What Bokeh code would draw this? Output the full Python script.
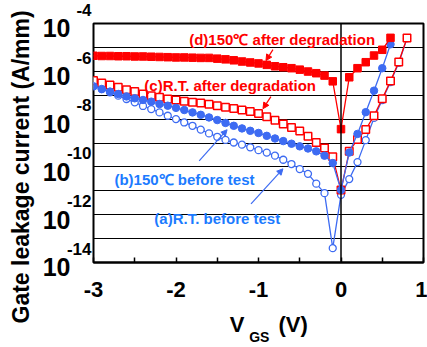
import numpy as np
from bokeh.plotting import figure
from bokeh.models import (FixedTicker, Span, Label, Arrow, NormalHead, Range1d,
                          LogAxis, LinearAxis, Grid, AllLabels, Title)
from bokeh.embed import file_html
from bokeh.resources import INLINE

# ---- data (gate voltage in V, leakage current as log10(A/mm)) ----
vgs_neg = [-3.0, -2.9, -2.8, -2.7, -2.6, -2.5, -2.4, -2.3, -2.2, -2.1, -2.0,
           -1.9, -1.8, -1.7, -1.6, -1.5, -1.4, -1.3, -1.2, -1.1, -1.0,
           -0.9, -0.8, -0.7, -0.6, -0.5, -0.4, -0.3, -0.2, -0.1, 0.0]

# (a) R.T. before test (open blue circles)
a_v = vgs_neg + [0.1, 0.2, 0.3, 0.4, 0.5, 0.6, 0.7, 0.8]
a_log = [-6.62, -6.74, -6.88, -7.02, -7.16, -7.30, -7.45, -7.58, -7.72, -7.86, -8.00,
         -8.14, -8.28, -8.44, -8.60, -8.74, -8.87, -8.98, -9.07, -9.18, -9.30,
         -9.40, -9.53, -9.70, -9.88, -10.09, -10.29, -10.70, -11.10, -13.40, -11.17,
         -10.51, -9.80, -8.88, -7.95, -7.20, -6.45, -5.65, -4.62]

# (b) 150C before test (filled blue circles)
b_v = vgs_neg + [0.1, 0.2, 0.3, 0.4, 0.5, 0.6]
b_log = [-6.63, -6.74, -6.85, -6.95, -7.05, -7.13, -7.20, -7.27, -7.37, -7.44, -7.53,
         -7.62, -7.72, -7.82, -7.93, -8.04, -8.16, -8.28, -8.39, -8.49, -8.58,
         -8.70, -8.81, -8.92, -9.03, -9.14, -9.23, -9.35, -9.53, -9.84, -10.97,
         -9.40, -8.62, -7.71, -6.81, -5.87, -4.87]

# (c) R.T. after degradation (open red squares)
c_v = vgs_neg + [0.1, 0.2, 0.3, 0.4, 0.5, 0.6, 0.7, 0.8]
c_log = [-6.39, -6.49, -6.57, -6.67, -6.77, -6.85, -6.95, -7.02, -7.09, -7.16, -7.20,
         -7.25, -7.29, -7.33, -7.38, -7.44, -7.50, -7.56, -7.62, -7.68, -7.77,
         -7.90, -8.05, -8.20, -8.35, -8.50, -8.72, -8.98, -9.21, -9.58, -10.97,
         -9.35, -8.85, -8.44, -7.86, -7.15, -6.41, -5.61, -4.61]

# (d) 150C after degradation (filled red squares)
d_v = vgs_neg + [0.1, 0.2, 0.3, 0.4, 0.5, 0.6]
d_log = [-5.35, -5.36, -5.36, -5.37, -5.37, -5.38, -5.38, -5.39, -5.40, -5.41, -5.42,
         -5.42, -5.43, -5.44, -5.44, -5.47, -5.50, -5.54, -5.59, -5.63, -5.67,
         -5.73, -5.79, -5.83, -5.87, -5.93, -6.01, -6.08, -6.18, -6.42, -8.42,
         -6.25, -5.87, -5.62, -5.34, -5.10, -4.60]

x_ticks = [-3, -2, -1, 0, 1]
x_tick_labels = ["-3", "-2", "-1", "0", "1"]
y_label_exps = [-14, -12, -10, -8, -6, -4]
y_label_base = "10"
y_title = "Gate leakage current (A/mm)"
x_title_parts = ["V", "GS", "(V)"]

RED = "#FF0000"
BLUE = "#3D6BF2"
BLUE_TXT = "#1C7BFF"
FONT = "Liberation Sans"
NB = "\u00a0"

p = figure(width=427, height=347, output_backend="svg", toolbar_location=None,
           y_axis_type="log", y_axis_location=None,
           x_range=Range1d(-3, 1), y_range=Range1d(10.0 ** -14, 10.0 ** -4),
           min_border_left=92, min_border_right=4, min_border_top=23, min_border_bottom=85)
p.background_fill_color = "white"
p.border_fill_color = "white"
p.outline_line_color = "black"
p.outline_line_width = 2
p.xgrid.grid_line_color = None
for g in p.ygrid:
    g.grid_line_color = None

# ---- bottom axis ----
xa = p.xaxis[0]
xa.ticker = FixedTicker(ticks=x_ticks, minor_ticks=[-2.5, -1.5, -0.5, 0.5])
xa.major_label_overrides = {t: l for t, l in zip(x_ticks, x_tick_labels)}
xa.major_label_policy = AllLabels()
xa.major_tick_in = 5
xa.major_tick_out = 0
xa.minor_tick_in = 5
xa.minor_tick_out = 0
xa.major_tick_line_width = 1.5
xa.minor_tick_line_width = 1.5
xa.major_label_standoff = 19
xa.major_label_text_font = FONT
xa.major_label_text_font_style = "bold"
xa.major_label_text_font_size = "22px"
xa.major_label_text_color = "black"
xa.axis_line_width = 2


def text_axis(cls, ticks, labels, size, standoff, **kw):
    ax = cls(ticker=FixedTicker(ticks=ticks, minor_ticks=[]),
             major_label_overrides={t: l for t, l in zip(ticks, labels)},
             major_label_policy=AllLabels(),
             major_tick_in=0, major_tick_out=0, minor_tick_in=0, minor_tick_out=0,
             axis_line_color=None, major_label_standoff=standoff,
             major_label_text_font=FONT, major_label_text_font_style="bold",
             major_label_text_font_size=size, major_label_text_color="black", **kw)
    return ax

# x-axis title "V_GS (V)" drawn as two extra label rows below the tick labels
v_ticks = [-1.26, -0.58]
p.add_layout(text_axis(LinearAxis, v_ticks, [x_title_parts[0], x_title_parts[2]], "22px", 12), "below")
gs_ticks = [-0.99]
p.add_layout(text_axis(LinearAxis, gs_ticks, [x_title_parts[1]], "14px", -11), "below")

# ---- left axes: superscript exponents (nearest the frame), then the "10" bases ----
dec_ticks = [10.0 ** e for e in y_label_exps]
p.add_layout(text_axis(LogAxis, dec_ticks, [str(e) + "\n" + NB for e in y_label_exps], "17px", 2,
                       major_label_text_line_height=1.4), "left")
p.add_layout(text_axis(LogAxis, dec_ticks, [NB + "\n" + y_label_base] * len(y_label_exps), "25px", -7,
                       major_label_text_line_height=0.35), "left")

# y-axis title, shifted down along the axis like in the original
p.add_layout(Title(text=y_title, align="left", offset=-61, standoff=11,
                   text_font=FONT, text_font_style="bold", text_font_size="23px",
                   text_color="black"), "left")

# horizontal grid at every decade
p.add_layout(Grid(dimension=1, ticker=FixedTicker(ticks=[10.0 ** e for e in range(-13, -4)]),
                  grid_line_color="black", grid_line_width=1.2))
p.add_layout(Span(location=0, dimension="height", line_color="black", line_width=1.5))

# ---- series ----
def ys(logs):
    return [10.0 ** v for v in logs]

p.line(a_v, ys(a_log), line_color=BLUE, line_width=1.3)
p.scatter(a_v, ys(a_log), marker="circle", size=7, line_color=BLUE, fill_color="white", line_width=1.3)

p.line(c_v, ys(c_log), line_color=RED, line_width=1.3)
p.scatter(c_v, ys(c_log), marker="square", size=7.5, line_color=RED, fill_color="white", line_width=1.5)

p.line(b_v, ys(b_log), line_color=BLUE, line_width=1.3)
p.scatter(b_v, ys(b_log), marker="circle", size=7.5, line_color=BLUE, fill_color=BLUE)

p.line(d_v, ys(d_log), line_color=RED, line_width=1.3)
p.scatter(d_v, ys(d_log), marker="square", size=7.5, line_color=RED, fill_color=RED)

# ---- in-plot annotations ----
def vx(px):
    return (px - 92) / 82.75 - 3

def ly(py):
    return 10.0 ** (-4 - (py - 23) / 23.85)

def lab(text, px, py, color):
    p.add_layout(Label(x=vx(px), y=ly(py), text=text, text_color=color, text_font=FONT,
                       text_font_style="bold", text_font_size="15px", text_align="left",
                       text_baseline="middle"))

lab("(d)150℃ after degradation", 188, 39, RED)
lab("(c)R.T. after degradation", 143, 85, RED)
lab("(b)150℃ before test", 113, 179, BLUE_TXT)
lab("(a)R.T. before test", 153, 218, BLUE_TXT)

def arrow(x0, y0, x1, y1, color):
    p.add_layout(Arrow(end=NormalHead(size=6, fill_color=color, line_color=color),
                       x_start=vx(x0), y_start=ly(y0), x_end=vx(x1), y_end=ly(y1),
                       line_color=color, line_width=1.2))

arrow(272, 49, 265, 60, RED)
arrow(270, 96, 262, 108, RED)
arrow(198, 160, 226, 129, BLUE)
arrow(250, 203, 282, 168, BLUE)

open("out.html", "w").write(file_html(p, INLINE))
